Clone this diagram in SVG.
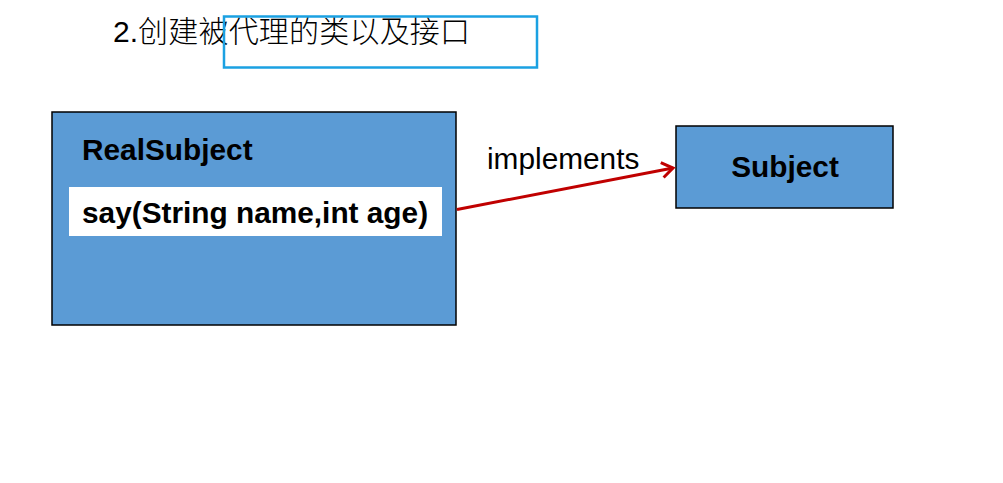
<svg xmlns="http://www.w3.org/2000/svg" width="1003" height="483" viewBox="0 0 1003 483">
<style>
.box{fill:#5B9BD5;stroke:#000;stroke-width:1.5}
.b{font-family:"Liberation Sans",Arial,sans-serif;font-weight:bold;font-size:29.8px;fill:#000}
.r{font-family:"Liberation Sans",Arial,"Noto Sans CJK SC",sans-serif;font-size:29.8px;fill:#000}
</style>
<defs>
<marker id="arr" markerWidth="18" markerHeight="18" refX="13" refY="9" orient="auto" markerUnits="userSpaceOnUse">
<polyline points="2,1.5 13,9 2,16.5" fill="none" stroke="#C00000" stroke-width="3"/>
</marker>
</defs>
<rect width="1003" height="483" fill="#fff"/>
<g id="title">
<text x="113" y="42" class="r" style="font-size:30px">2.<tspan style="font-family:'Noto Sans CJK SC',sans-serif;font-size:30px;font-weight:300" letter-spacing="0.2">创建被代理的类以及接口</tspan></text>
<rect x="224" y="16.5" width="313" height="51" fill="none" stroke="#1BA1E2" stroke-width="2.5"/>
</g>
<g id="realsubject">
<rect class="box" x="52" y="112" width="404" height="213"/>
<text class="b" x="82" y="160">RealSubject</text>
<rect x="69" y="187" width="373" height="49" fill="#fff"/>
<text class="b" x="82" y="223">say(String name,int age)</text>
</g>
<g id="subject">
<rect class="box" x="676" y="126" width="217" height="82"/>
<text class="b" x="785" y="177" text-anchor="middle">Subject</text>
</g>
<g id="connectors">
<line x1="457" y1="209.5" x2="673" y2="168" stroke="#C00000" stroke-width="3" marker-end="url(#arr)"/>
<text class="r" x="487" y="169">implements</text>
</g>
</svg>
